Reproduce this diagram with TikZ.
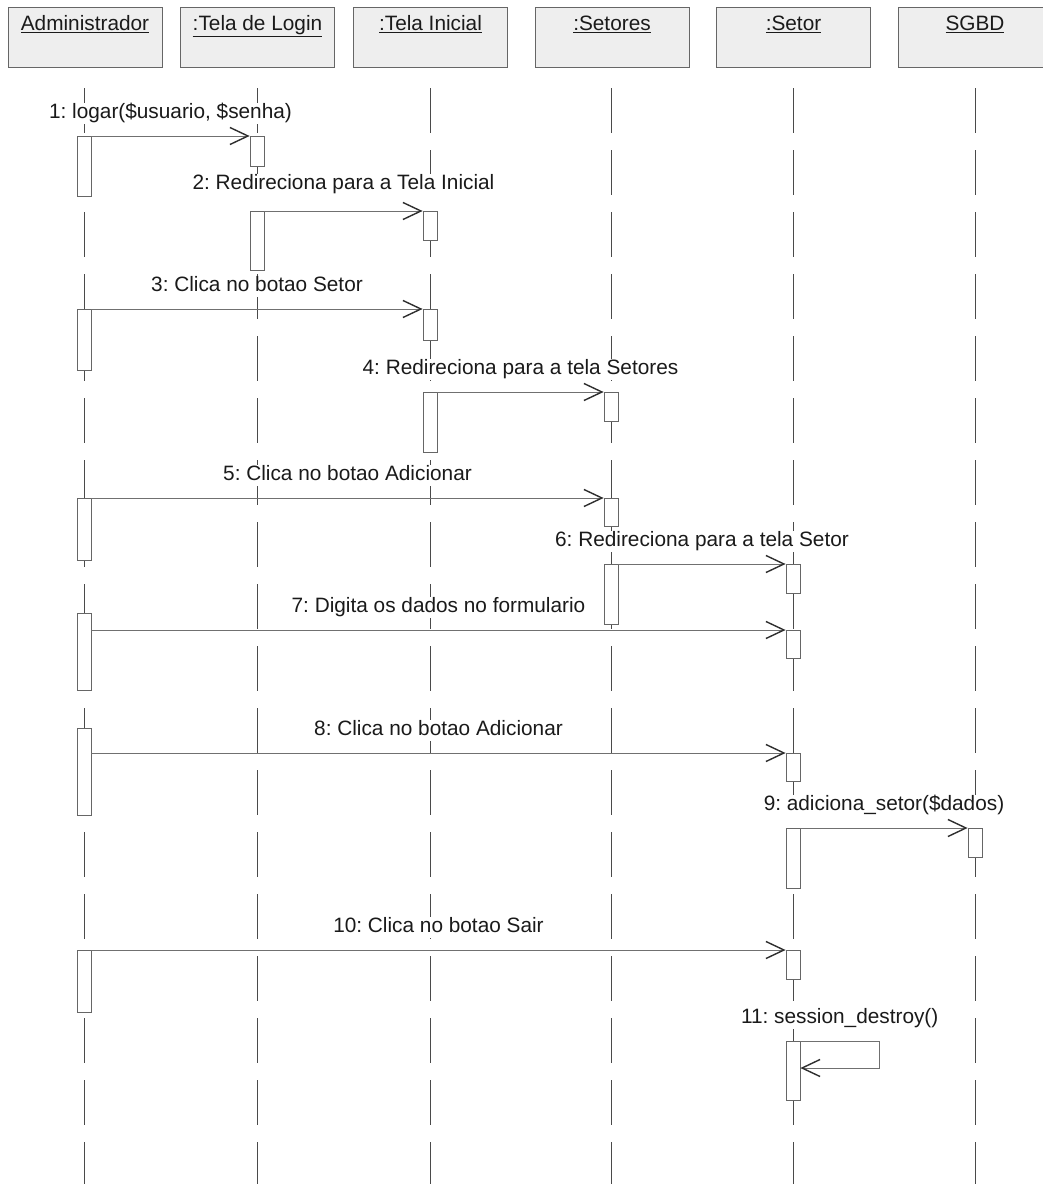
\documentclass[tikz,border=0pt]{standalone}
\usepackage{fontspec}
\setmainfont{Liberation Sans}
\usetikzlibrary{arrows.meta}
\definecolor{lifec}{HTML}{4A4A4A}
\definecolor{msgc}{HTML}{707070}
\definecolor{boxc}{HTML}{666666}
\definecolor{hdrfill}{HTML}{EEEEEE}
\definecolor{txtc}{HTML}{1A1A1A}
\definecolor{tipc}{HTML}{2E2E2E}
\begin{document}
\frenchspacing
\begin{tikzpicture}[x=1pt,y=-1pt, font=\fontsize{20.8}{25}\selectfont\frenchspacing,
 hdr/.style={draw=boxc, fill=hdrfill, line width=0.9pt, minimum width=154pt, minimum height=60pt, inner sep=0pt},
 hdrlbl/.style={anchor=north, yshift=-9pt, inner sep=0pt, text=txtc},
 life/.style={draw=lifec, line width=0.9pt, dash pattern=on 45pt off 17pt},
 act/.style={draw=boxc, fill=white, line width=0.8pt, minimum width=14pt, inner sep=0pt, anchor=north},
 msg/.style={draw=msgc, line width=0.9pt, -{Straight Barb[length=18pt,width=17pt,line width=1.4pt,color=tipc]}},
 lbl/.style={fill=white, inner sep=1pt, text=txtc, text height=15pt, text depth=4pt, midway, yshift=23pt},
]
\useasboundingbox (0,0) rectangle (1043,1184);
\fill[white] (0,0) rectangle (1043,1184);

% headers
\node[hdr, label={[hdrlbl]north:\underline{Administrador}}] (hA) at (85,37) {};
\node[hdr, label={[hdrlbl]north:\underline{:Tela de Login}}] (hL) at (257.5,37) {};
\node[hdr, label={[hdrlbl]north:\underline{:Tela Inicial}}] (hI) at (430.5,37) {};
\node[hdr, label={[hdrlbl]north:\underline{:Setores}}] (hS) at (612,37) {};
\node[hdr, label={[hdrlbl]north:\underline{:Setor}}] (hT) at (793.5,37) {};
\node[hdr, label={[hdrlbl]north:\underline{SGBD}}] (hD) at (975,37) {};

% lifelines
\foreach \n/\x in {A/84, L/257, I/430, S/611, T/793, D/975}{
  \coordinate (top\n) at (\x,88);
  \coordinate (bot\n) at (\x,1192);
  \draw[life] (top\n) -- (bot\n);
}

% activations
\node[act, minimum height=60pt] (a1) at (84,136) {};
\node[act, minimum height=30pt] (l1) at (257,136) {};
\node[act, minimum height=59pt] (l2) at (257,211) {};
\node[act, minimum height=29pt] (i1) at (430,211) {};
\node[act, minimum height=61pt] (a2) at (84,309) {};
\node[act, minimum height=31pt] (i2) at (430,309) {};
\node[act, minimum height=60pt] (i3) at (430,392) {};
\node[act, minimum height=29pt] (s1) at (611,392) {};
\node[act, minimum height=62pt] (a3) at (84,498) {};
\node[act, minimum height=28pt] (s2) at (611,498) {};
\node[act, minimum height=60pt] (s3) at (611,564) {};
\node[act, minimum height=29pt] (t1) at (793,564) {};
\node[act, minimum height=77pt] (a4) at (84,613) {};
\node[act, minimum height=28pt] (t2) at (793,630) {};
\node[act, minimum height=87pt] (a5) at (84,728) {};
\node[act, minimum height=28pt] (t3) at (793,753) {};
\node[act, minimum height=60pt] (t4) at (793,828) {};
\node[act, minimum height=29pt] (d1) at (975,828) {};
\node[act, minimum height=62pt] (a6) at (84,950) {};
\node[act, minimum height=29pt] (t5) at (793,950) {};
\node[act, minimum height=59pt] (t6) at (793,1041) {};

% messages
\draw[msg] (a1.north east) -- (l1.north west) node[lbl] {1: logar(\$usuario, \$senha)};
\draw[msg] (l2.north east) -- (i1.north west) node[lbl, yshift=4pt] {2: Redireciona para a Tela Inicial};
\draw[msg] (a2.north east) -- (i2.north west) node[lbl] {3: Clica no botao Setor};
\draw[msg] (i3.north east) -- (s1.north west) node[lbl] {4: Redireciona para a tela Setores};
\draw[msg] (a3.north east) -- (s2.north west) node[lbl] {5: Clica no botao Adicionar};
\draw[msg] (s3.north east) -- (t1.north west) node[lbl] {6: Redireciona para a tela Setor};
\draw[msg] (a4.east |- t2.north) -- (t2.north west) node[lbl] {7: Digita os dados no formulario};
\draw[msg] (a5.east |- t3.north) -- (t3.north west) node[lbl] {8: Clica no botao Adicionar};
\draw[msg] (t4.north east) -- (d1.north west) node[lbl] {9: adiciona\_setor(\$dados)};
\draw[msg] (a6.north east) -- (t5.north west) node[lbl] {10: Clica no botao Sair};
\coordinate (s11) at (879,1068);
\draw[msg] (t6.north east) -- (t6.north east -| s11) node[lbl] {11: session\_destroy()} -- (s11) -- (t6.east |- s11);
\end{tikzpicture}
\end{document}
